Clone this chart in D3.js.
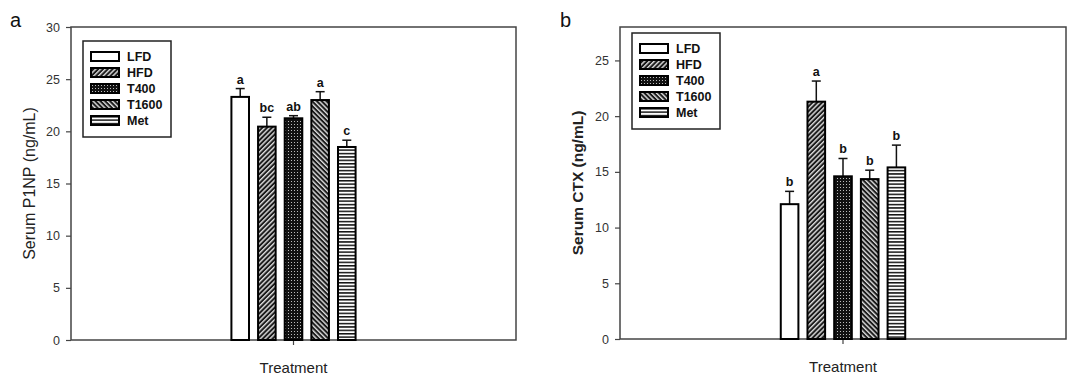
<!DOCTYPE html>
<html>
<head>
<meta charset="utf-8">
<script src="https://cdn.jsdelivr.net/npm/d3@7"></script>
<style>
  body { margin: 0; background: #fff; }
  svg { font-family: "Liberation Sans", Arial, sans-serif; }
</style>
</head>
<body>
<div id="viz"></div>
<script>
const groups = ['LFD', 'HFD', 'T400', 'T1600', 'Met'];
const p1npMean = [23.3, 20.45, 21.25, 23.0, 18.5];
const p1npErr = [0.8, 0.9, 0.25, 0.8, 0.65];
const p1npLetters = ['a', 'bc', 'ab', 'a', 'c'];
const ctxMean = [12.1, 21.3, 14.6, 14.35, 15.4];
const ctxErr = [1.15, 1.85, 1.6, 0.8, 2.0];
const ctxLetters = ['b', 'a', 'b', 'b', 'b'];
const p1npTicks = [0, 5, 10, 15, 20, 25, 30];
const ctxTicks = [0, 5, 10, 15, 20, 25];

const svg = d3.select('#viz').append('svg')
  .attr('width', 1067)
  .attr('height', 376);

// fill patterns for the treatment groups
const defs = svg.append('defs');
function stripes(id, angle) {
  const p = defs.append('pattern')
    .attr('id', id)
    .attr('patternUnits', 'userSpaceOnUse')
    .attr('width', 3.4).attr('height', 3.4)
    .attr('patternTransform', `rotate(${angle})`);
  p.append('rect').attr('width', 3.4).attr('height', 3.4).attr('fill', '#1a1a1a');
  p.append('rect').attr('x', 0).attr('y', 0).attr('width', 1.4).attr('height', 3.4).attr('fill', '#ddd');
}
stripes('hfd', 45);
stripes('t1600', -45);
{
  const p = defs.append('pattern')
    .attr('id', 't400')
    .attr('patternUnits', 'userSpaceOnUse')
    .attr('width', 3).attr('height', 3);
  p.append('rect').attr('width', 3).attr('height', 3).attr('fill', '#111');
  p.append('rect').attr('x', 1).attr('y', 1).attr('width', 1).attr('height', 1).attr('fill', '#bbb');
}
{
  const p = defs.append('pattern')
    .attr('id', 'met')
    .attr('patternUnits', 'userSpaceOnUse')
    .attr('width', 4).attr('height', 3.4);
  p.append('rect').attr('width', 4).attr('height', 3.4).attr('fill', '#fff');
  p.append('rect').attr('y', 0).attr('width', 4).attr('height', 1.5).attr('fill', '#111');
}
const fills = ['#fff', 'url(#hfd)', 'url(#t400)', 'url(#t1600)', 'url(#met)'];

function panel(opt) {
  const { left, top, width, height } = opt;
  const g = svg.append('g').attr('transform', `translate(${left},${top})`);

  const y = d3.scaleLinear().domain([0, opt.ymax]).range([height, 0]);
  const outer = d3.scaleBand().domain(['Treatment']).range([0, width]).paddingOuter(1.17);
  const x = d3.scaleBand().domain(groups)
    .range([outer('Treatment'), outer('Treatment') + outer.bandwidth()])
    .paddingInner(0.34).paddingOuter(0.17);

  // frame
  g.append('rect')
    .attr('width', width).attr('height', height)
    .attr('fill', 'none').attr('stroke', '#444').attr('stroke-width', 1.5);

  const yAxis = g.append('g')
    .call(d3.axisLeft(y).tickValues(opt.ticks).tickSize(5).tickPadding(6));
  yAxis.select('.domain').remove();
  yAxis.selectAll('line').attr('stroke', '#444').attr('stroke-width', 1.2);
  yAxis.selectAll('text').attr('font-size', 12.5).attr('fill', '#333')
    .attr('font-family', '"Liberation Sans", Arial, sans-serif');

  const xAxis = g.append('g').attr('transform', `translate(0,${height})`)
    .call(d3.axisBottom(outer).tickSize(5).tickFormat(''));
  xAxis.select('.domain').remove();
  xAxis.selectAll('line').attr('stroke', '#444').attr('stroke-width', 1.2);

  // error bars (upper only)
  const errs = g.selectAll('.err')
    .data(groups.map((k, i) => ({ k, m: opt.mean[i], e: opt.err[i] })))
    .join('g');
  errs.append('line')
    .attr('x1', d => x(d.k) + x.bandwidth() / 2)
    .attr('x2', d => x(d.k) + x.bandwidth() / 2)
    .attr('y1', d => y(d.m)).attr('y2', d => y(d.m + d.e))
    .attr('stroke', '#111').attr('stroke-width', 1.5);
  errs.append('line')
    .attr('x1', d => x(d.k) + x.bandwidth() / 2 - 4.5)
    .attr('x2', d => x(d.k) + x.bandwidth() / 2 + 4.5)
    .attr('y1', d => y(d.m + d.e)).attr('y2', d => y(d.m + d.e))
    .attr('stroke', '#111').attr('stroke-width', 1.5);

  g.selectAll('.bar')
    .data(groups.map((k, i) => ({ k, m: opt.mean[i], i })))
    .join('rect')
    .attr('x', d => x(d.k))
    .attr('y', d => y(d.m))
    .attr('width', x.bandwidth())
    .attr('height', d => y(0) - y(d.m))
    .attr('fill', d => fills[d.i])
    .attr('stroke', '#000')
    .attr('stroke-width', 2);

  g.selectAll('.lbl')
    .data(groups.map((k, i) => ({ k, v: opt.mean[i] + opt.err[i], t: opt.letters[i] })))
    .join('text')
    .attr('x', d => x(d.k) + x.bandwidth() / 2)
    .attr('y', d => y(d.v) - 5)
    .attr('text-anchor', 'middle')
    .attr('font-size', 12.5).attr('font-weight', 'bold').attr('fill', '#111')
    .text(d => d.t);

  // axis titles
  g.append('text')
    .attr('transform', `translate(${opt.titleX},${height / 2}) rotate(-90)`)
    .attr('text-anchor', 'middle')
    .attr('dy', '0.35em')
    .attr('font-size', opt.titleBold ? 15.5 : 16)
    .attr('font-weight', opt.titleBold ? 'bold' : 'normal')
    .attr('fill', '#222')
    .text(opt.title);
  g.append('text')
    .attr('x', width / 2).attr('y', height + 33)
    .attr('text-anchor', 'middle')
    .attr('font-size', 15).attr('fill', '#222')
    .text('Treatment');

  // panel letter
  svg.append('text')
    .attr('x', opt.letterX).attr('y', 27)
    .attr('font-size', 20).attr('fill', '#111')
    .text(opt.letter);

  // legend
  const lg = g.append('g').attr('transform', `translate(${opt.legX},${opt.legY})`);
  lg.append('rect')
    .attr('width', 88).attr('height', 96)
    .attr('fill', '#fff').attr('stroke', '#222').attr('stroke-width', 1.5);
  const rows = lg.selectAll('.row').data(groups).join('g')
    .attr('transform', (d, i) => `translate(8,${11 + i * 16})`);
  rows.append('rect')
    .attr('width', 28).attr('height', 9)
    .attr('fill', (d, i) => fills[i])
    .attr('stroke', '#000').attr('stroke-width', 2);
  rows.append('text')
    .attr('x', 36).attr('y', 4.5).attr('dy', '0.35em')
    .attr('font-size', 12.5).attr('font-weight', 'bold').attr('fill', '#111')
    .text(d => d);
}

panel({
  left: 71, top: 27, width: 445, height: 313,
  ymax: 30, ticks: p1npTicks,
  mean: p1npMean, err: p1npErr, letters: p1npLetters,
  title: 'Serum P1NP (ng/mL)', titleX: -42, titleBold: false,
  letter: 'a', letterX: 10, legX: 12, legY: 14
});
panel({
  left: 620, top: 27, width: 446, height: 312,
  ymax: 28, ticks: ctxTicks,
  mean: ctxMean, err: ctxErr, letters: ctxLetters,
  title: 'Serum CTX (ng/mL)', titleX: -42, titleBold: true,
  letter: 'b', letterX: 560, legX: 12, legY: 6
});
</script>
</body>
</html>
